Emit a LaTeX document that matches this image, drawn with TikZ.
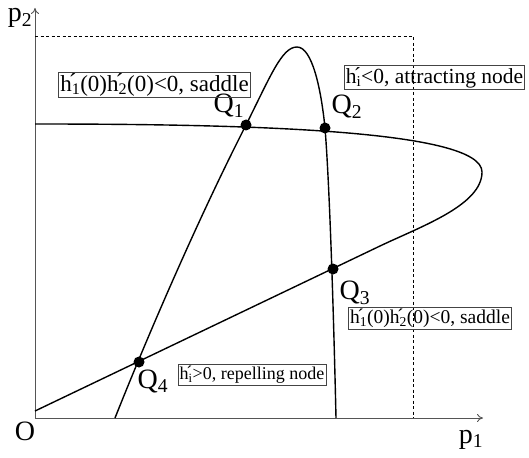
\documentclass[tikz,border=0pt]{standalone}
\usepackage{fontspec}
\setmainfont{Liberation Serif}
\usetikzlibrary{arrows.meta}
\definecolor{axisgray}{HTML}{555555}
\definecolor{boxgray}{HTML}{444444}
\newcommand{\hd}[1]{h\rlap{\kern-0.13em\raisebox{0.06em}{\char"00B4}}\textsubscript{#1}}
\newcommand{\fsz}[1]{\fontsize{#1}{#1}\selectfont}

\begin{document}
\begin{tikzpicture}[x=1pt, y=-1pt, line width=1.4pt, >={To[length=6pt,width=8pt]},
  dot/.style={circle, fill=black, inner sep=0pt, minimum size=11pt},
  lab/.style={draw=boxgray, line width=0.6pt, inner sep=1.5pt},
  big/.style={font=\fsz{28}, inner sep=0pt}]
  \useasboundingbox (0,0) rectangle (529,457);

  % axes and dashed bound
  \coordinate (O) at (35,418);
  \coordinate (xend) at (483,418);
  \coordinate (yend) at (35,8);
  \draw[axisgray, line width=0.9pt, ->] (O) -- (xend);
  \draw[axisgray, line width=0.9pt, ->] (O) -- (yend);
  \coordinate (dl) at (35,36);
  \coordinate (dc) at (413,36);
  \coordinate (db) at (413,418);
  \draw[line width=0.7pt, dash pattern=on 3pt off 2.5pt] (dl) -- (dc) -- (db);
  \node[big] (Olab) at (25,431) {O};
  \node[big] (p1) at (471,440) {p\textsubscript{1}};
  \node[big] (p2) at (20,18) {p\textsubscript{2}};

  % the two curves
  \draw (35,124) .. controls (250,124) and (482,130) .. (482,172)
    .. controls (482,205) and (422,226) .. (380,246) -- (35,411);
  \draw (115,418) .. controls (150,330) and (200,215) .. (246,125)
    .. controls (271,75) and (282,47) .. (297,47)
    .. controls (312,47) and (321,88) .. (325,128)
    .. controls (330,190) and (334,330) .. (336,418);

  % equilibria
  \foreach \n/\p in {1/{(246,125)}, 2/{(325,128)}, 3/{(333,269)}, 4/{(139,362)}}{
    \node[dot] (Q\n) at \p {};
  }
  \node[big] (q1) at (229,106) {Q\textsubscript{1}};
  \node[big] (q2) at (347,107) {Q\textsubscript{2}};
  \node[big] (q3) at (355,293) {Q\textsubscript{3}};
  \node[big] (q4) at (153,381) {Q\textsubscript{4}};

  % type labels
  \node[lab, font=\fsz{23}] (s1) at (154.5,85) {\hd{1}(0)\hd{2}(0)<0, saddle};
  \node[lab, font=\fsz{21.5}] (att) at (434.5,77.5) {\hd{i}<0, attracting node};
  \node[lab, font=\fsz{19.5}] (s3) at (430,318.5) {\hd{1}(0)\hd{2}(0)<0, saddle};
  \node[lab, font=\fsz{18}] (rep) at (252,375) {\hd{i}>0, repelling node};
\end{tikzpicture}
\end{document}
